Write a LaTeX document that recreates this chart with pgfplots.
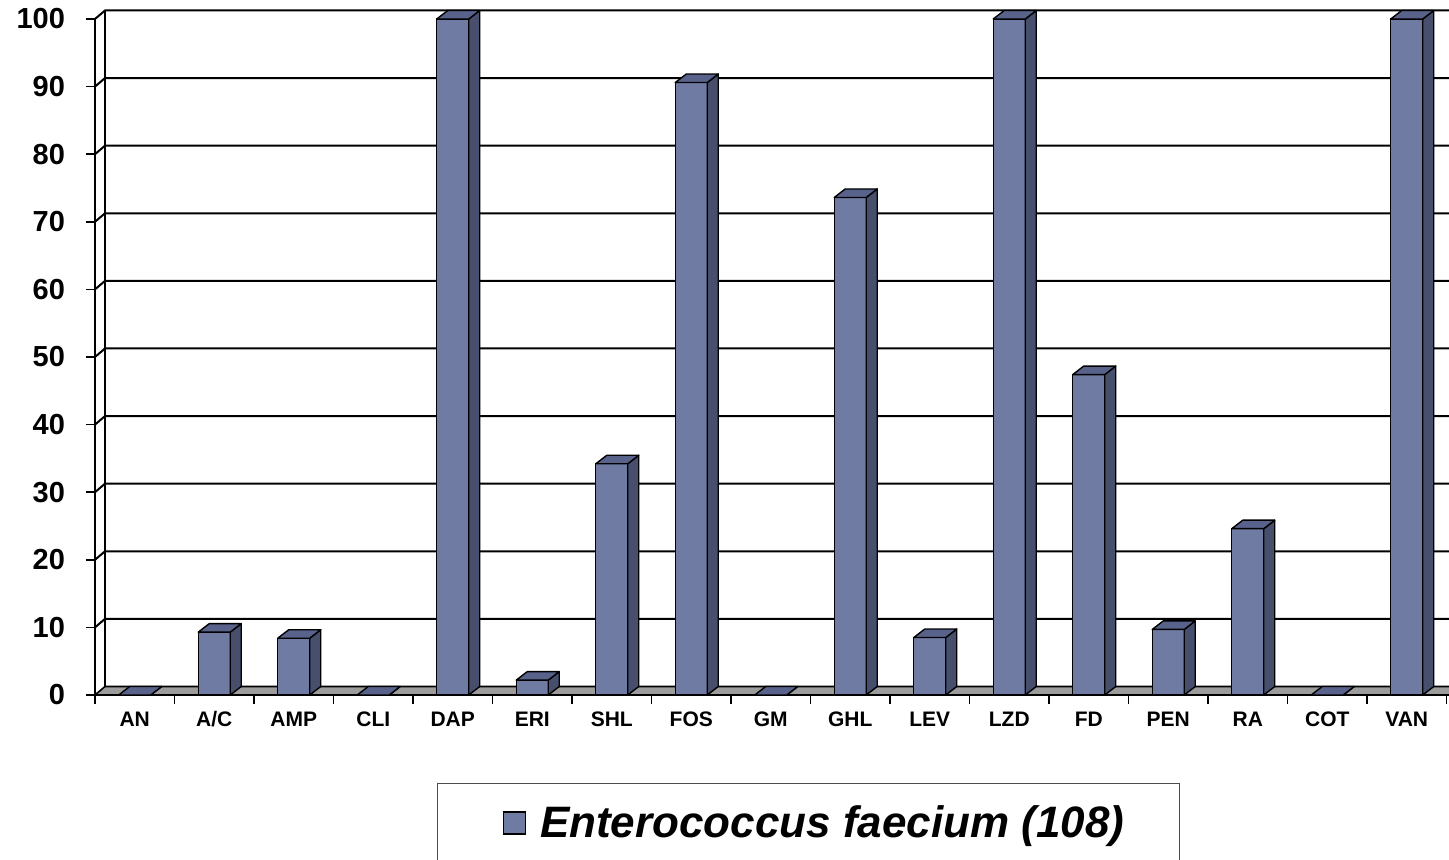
\documentclass[border=0pt]{standalone}
\usepackage{pgfplots}
\pgfplotsset{compat=1.18}
\usepackage{pgfplotstable}
\usepackage{fontspec}
\setmainfont{Liberation Sans}
\definecolor{barfront}{HTML}{6F7BA3}
\definecolor{barside}{HTML}{474F6D}
\definecolor{bartop}{HTML}{58628A}
\definecolor{floorgray}{HTML}{9C9C9C}

\pgfplotstableread{
x y
0 0
1 9.3
2 8.4
3 0
4 100
5 2.2
6 34.2
7 90.6
8 0
9 73.6
10 8.5
11 100
12 47.4
13 9.7
14 24.6
15 0
16 100
}\datatable

\begin{document}
\begin{tikzpicture}
\begin{axis}[
  at={(0,0)}, anchor=south west, scale only axis,
  x=39.75pt, y=3.38pt,
  xmin=-0.5, xmax=16.5, ymin=0, ymax=100,
  clip=false,
  axis x line*=bottom, axis y line*=left,
  axis line style={line width=1pt, black},
  xtick={-0.5,0.5,...,16.5},
  x tick label as interval,
  xticklabels={AN,A/C,AMP,CLI,DAP,ERI,SHL,FOS,GM,GHL,LEV,LZD,FD,PEN,RA,COT,VAN},
  ytick={0,10,...,100},
  tick align=outside,
  major tick length=4.5pt,
  tick style={line width=0.8pt, black},
  /pgf/number format/assume math mode=true,
  xticklabel style={font=\bfseries\fontsize{10.5}{12}\selectfont, text height=7.6pt, text depth=0pt},
  yticklabel style={font=\bfseries\fontsize{14.5}{16}\selectfont, xshift=-7pt},
  legend style={at={(axis description cs:0.528,-0.13)}, anchor=north,
    draw=black!70, line width=0.6pt, inner xsep=25.5pt, inner ysep=9pt,
    font=\bfseries\itshape\fontsize{22}{26}\selectfont,
    /tikz/every odd column/.append style={column sep=5pt}},
]
% floor
\draw[fill=floorgray, line width=0.8pt] (axis cs:-0.5,0) -- ([shift={(5pt,4.25pt)}]axis cs:-0.5,0)
   -- ([shift={(10pt,4.25pt)}]axis cs:16.5,0) -- ([shift={(10pt,0pt)}]axis cs:16.5,0) -- cycle;
% back wall gridlines
\pgfplotsinvokeforeach{10,20,...,100}{
  \draw[line width=1pt] (axis cs:-0.5,#1) -- ([shift={(5pt,4.25pt)}]axis cs:-0.5,#1)
     -- ([shift={(10pt,4.25pt)}]axis cs:16.5,#1);
}
\draw[line width=1pt] ([shift={(5pt,4.25pt)}]axis cs:-0.5,0) -- ([shift={(5pt,4.25pt)}]axis cs:-0.5,100);
% front faces
\addplot[ybar, bar width=16pt, fill=barfront, draw=black, line width=0.7pt,
  legend image code/.code={\path (0pt,0pt); \draw[fill=barfront, draw=black, line width=0.6pt] (7pt,-5.5pt) rectangle (18pt,5.5pt);}]
  table[x=x, y=y] {\datatable};
\addlegendentry{Enterococcus faecium (108)}
% side and top faces
\addplot[only marks, forget plot, scatter, mark=text, text mark={},
  visualization depends on={\thisrow{y} \as \val},
  scatter/@pre marker code/.code={%
    \pgfmathsetmacro\h{\val*3.38}%
    \draw[fill=barside, draw=black, line width=0.7pt, line join=round] (8pt,0pt) -- (13.5pt,4.25pt) -- (13.5pt,4.25pt-\h pt) -- (8pt,-\h pt) -- cycle;
    \draw[fill=bartop, draw=black, line width=0.7pt, line join=round] (-8pt,0pt) -- (8pt,0pt) -- (13.5pt,4.25pt) -- (-2.5pt,4.25pt) -- cycle;
  },
  scatter/@post marker code/.code={}]
  table[x=x, y=y] {\datatable};
\end{axis}
\pgfresetboundingbox
\path[use as bounding box] (-47.5pt,-82.5pt) rectangle (677pt,347.5pt);
\end{tikzpicture}
\end{document}
